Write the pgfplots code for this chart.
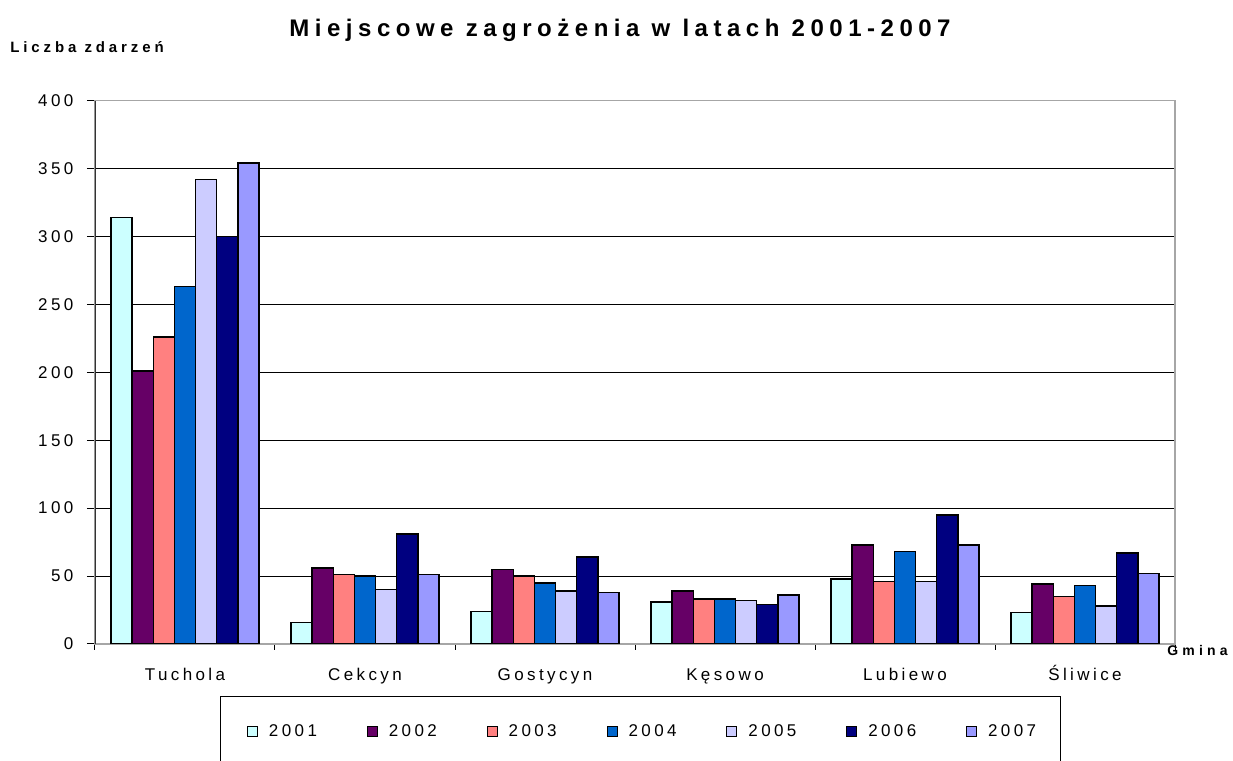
\documentclass[border=0pt]{standalone}
\usepackage{pgfplots}
\pgfplotsset{compat=1.18}
\usepackage{fontspec}
\setmainfont{Liberation Sans}[LetterSpace=20]
\newfontfamily\titlefont{Liberation Sans}[LetterSpace=23]
\newfontfamily\ylabfont{Liberation Sans}[LetterSpace=26]
\newfontfamily\labfont{Liberation Sans}[LetterSpace=30]
\definecolor{c1}{HTML}{CCFFFF}
\definecolor{c2}{HTML}{660066}
\definecolor{c3}{HTML}{FF8080}
\definecolor{c4}{HTML}{0066CC}
\definecolor{c5}{HTML}{CCCCFF}
\definecolor{c6}{HTML}{000080}
\definecolor{c7}{HTML}{9999FF}
\begin{document}
\begin{tikzpicture}[x=1pt,y=1pt]
\path[use as bounding box] (0,0) rectangle (924.75,570.75);
\begin{axis}[
  at={(71.25pt,87.75pt)}, anchor=south west,
  scale only axis, width=810pt, height=407.6pt,
  xmin=-0.5, xmax=5.5, ymin=0, ymax=400,
  ybar=0pt, bar width=0.1175,
  xtick={0,1,2,3,4,5},
  xticklabels={Tuchola,Cekcyn,Gostycyn,Kęsowo,Lubiewo,Śliwice},
  minor xtick={-0.5,0.5,1.5,2.5,3.5,4.5,5.5},
  ytick={0,50,...,400},
  xtick pos=bottom, ytick pos=left,
  ymajorgrids, major grid style={black, line width=0.75pt},
  tick align=outside,
  x tick style={draw=none},
  minor x tick style={draw=black, line width=0.75pt},
  minor tick length=4.5pt,
  y tick style={black, line width=0.75pt},
  major tick length=6pt,
  axis line style={gray!70, line width=0.9pt},
  /pgf/number format/assume math mode=true,
  tick label style={font=\fontsize{12.75}{15}\selectfont},
  yticklabel style={anchor=east, inner sep=0pt, xshift=-10pt},
  xticklabel style={anchor=north, inner sep=0pt, text height=9.2pt, text depth=0pt, yshift=-12pt},
  legend columns=7,
  legend style={at={(0.1407,-0.1614)}, anchor=west, draw=none, fill=none,
    inner sep=0pt, outer sep=0pt,
    font=\fontsize{12.75}{15}\selectfont,
    nodes={inner sep=0pt, text width=73.4pt, align=left},
    /tikz/every odd column/.append style={column sep=8.25pt}},
  legend image code/.code={\draw[#1, line width=0.75pt] (0pt,-3.75pt) rectangle (7.5pt,3.75pt);},
  every axis plot/.append style={draw=black, line width=1.1pt},
]
\addplot[fill=c1] coordinates {(0,314) (1,16) (2,24) (3,31) (4,48) (5,23)};
\addplot[fill=c2] coordinates {(0,201) (1,56) (2,55) (3,39) (4,73) (5,44)};
\addplot[fill=c3] coordinates {(0,226) (1,51) (2,50) (3,33) (4,46) (5,35)};
\addplot[fill=c4] coordinates {(0,263) (1,50) (2,45) (3,33) (4,68) (5,43)};
\addplot[fill=c5] coordinates {(0,342) (1,40) (2,39) (3,32) (4,46) (5,28)};
\addplot[fill=c6] coordinates {(0,300) (1,81) (2,64) (3,29) (4,95) (5,67)};
\addplot[fill=c7] coordinates {(0,354) (1,51) (2,38) (3,36) (4,73) (5,52)};
\legend{2001,2002,2003,2004,2005,2006,2007}
\draw[black!80, line width=0.9pt] (axis cs:-0.5,0) -- (axis cs:-0.5,400);
\end{axis}
\draw[black, line width=0.75pt] (165,-10) rectangle (795,48);
\node[font=\titlefont\bfseries\fontsize{18}{21}\selectfont] at (465,548) {Miejscowe zagrożenia w latach 2001-2007};
\node[anchor=west, inner sep=0pt, font=\ylabfont\bfseries\fontsize{11.25}{13}\selectfont] at (7.5,535.5) {Liczba zdarzeń};
\node[anchor=west, inner sep=0pt, font=\labfont\bfseries\fontsize{10.5}{12}\selectfont] at (875.25,82.7) {Gmina};
\end{tikzpicture}
\end{document}
